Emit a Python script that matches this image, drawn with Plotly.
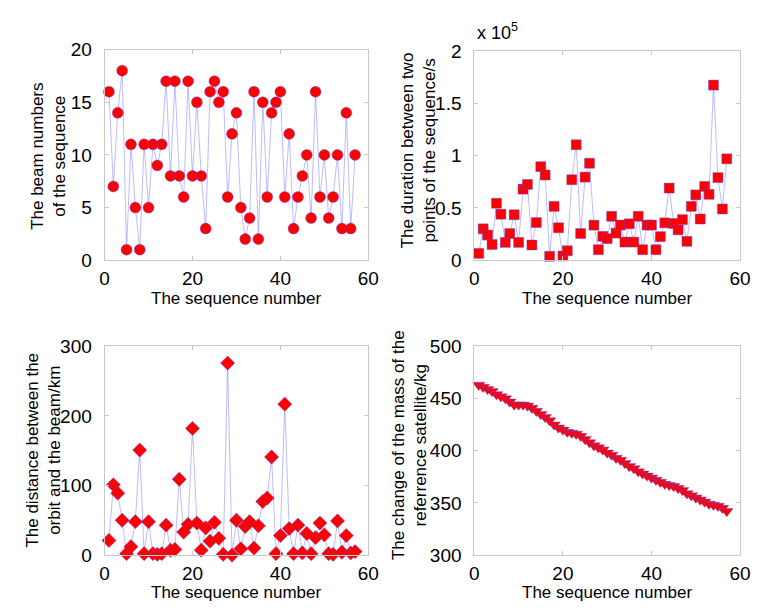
import plotly.graph_objects as go

seq = list(range(1, 58))

beam_numbers = [16, 7, 14, 18, 1, 11, 5, 1, 11, 5, 11, 9, 11, 17, 8, 17, 8, 6, 17, 8,
                15, 8, 3, 16, 17, 15, 16, 6, 12, 14, 5, 2, 4, 16, 2, 15, 6, 14, 15, 16,
                6, 12, 3, 6, 8, 10, 4, 16, 6, 10, 4, 6, 10, 3, 14, 3, 10]

# duration in units of 10^5 s
duration_e5 = [0.065, 0.30, 0.24, 0.15, 0.545, 0.44, 0.17, 0.255, 0.435, 0.17,
               0.68, 0.725, 0.145, 0.36, 0.895, 0.815, 0.037, 0.515, 0.31, 0.04,
               0.09, 0.77, 1.105, 0.255, 0.795, 0.928, 0.335, 0.10, 0.228, 0.206,
               0.42, 0.259, 0.336, 0.173, 0.348, 0.173, 0.42, 0.10, 0.336, 0.336,
               0.10, 0.225, 0.357, 0.69, 0.351, 0.29, 0.388, 0.18, 0.515, 0.625,
               0.394, 0.706, 0.63, 1.676, 0.79, 0.49, 0.97]

distance_km = [21, 101, 89, 50, 2, 12, 48, 151, 2, 48, 2, 1, 2, 43, 7, 8, 109, 33, 44, 182,
               46, 7, 39, 20, 47, 24, 1, 276, 0, 50, 9, 41, 48, 10, 42, 77, 82, 141, 2, 28,
               217, 38, 2, 43, 3, 31, 2, 25, 46, 29, 2, 1, 49, 4, 28, 3, 5]

mass_kg = [463, 461, 459, 457, 454, 452, 450, 447, 444, 444, 444, 443, 441, 438, 435,
           432, 429, 425, 422, 420, 418, 417, 416, 414, 411, 408, 405, 403, 401, 398,
           396, 393, 391, 388, 385, 383, 380, 378, 376, 374, 372, 370, 368, 367, 366,
           364, 362, 359, 357, 355, 353, 351, 349, 348, 347, 345, 342]

x_ticks = [0, 20, 40, 60]
x_title = "The sequence number"
y_titles = ["The beam numbers<br>of the sequence",
            "The duration between two<br>points of the sequence/s",
            "The distance between the<br>orbit and the beam/km",
            "The change of the mass of the<br>referrence satellite/kg"]

FONT = "Arial, Liberation Sans, sans-serif"
LINE_COLOR = "rgba(100,100,255,0.55)"

W, H = 769, 615
def xd(a, b):
    return [a / W, b / W]
def yd(top, bot):
    return [1 - bot / H, 1 - top / H]

fig = go.Figure()

panels = [
    (beam_numbers, "circle", 11, "x", "y"),
    (duration_e5, "square", 10, "x2", "y2"),
    (distance_km, "diamond", 11, "x3", "y3"),
    (mass_kg, "triangle-down", 11, "x4", "y4"),
]
for vals, sym, sz, xa, ya in panels:
    fig.add_trace(go.Scatter(
        x=seq, y=vals, mode="lines+markers", xaxis=xa, yaxis=ya,
        line=dict(color=LINE_COLOR, width=0.8),
        marker=dict(symbol=sym, size=sz, color="#ff0000",
                    line=dict(color="rgba(80,80,255,0.7)", width=0.6)),
        showlegend=False, cliponaxis=False))

axis_common = dict(
    showline=True, linecolor="#c8c8c8", linewidth=1, mirror="ticks",
    ticks="inside", ticklen=4, tickcolor="#c8c8c8",
    showgrid=False, zeroline=False,
    tickfont=dict(family=FONT, size=19, color="#000"),
)
title_font = dict(family=FONT, size=17, color="#000")
xt = dict(range=[0, 60], tickvals=x_ticks, ticktext=[str(t) for t in x_ticks],
          ticklabelstandoff=1, **axis_common)
yt = dict(ticklabelstandoff=8, **axis_common)

annotations = [dict(text="x 10<sup>5</sup>", x=480 / W, y=1 - 36 / H, xref="paper", yref="paper",
                    xanchor="left", yanchor="bottom", showarrow=False,
                    font=dict(family=FONT, size=18, color="#000"))]
# x titles (pixel centers)
for cx, cy in [(236, 298.5), (615, 298.5), (236, 603.5), (615, 603.5)]:
    annotations.append(dict(text=x_title, x=cx / W, y=1 - cy / H, xref="paper", yref="paper",
                            xanchor="center", yanchor="middle", showarrow=False, font=title_font))
# y titles
for txt, (cx, cy) in zip(y_titles, [(45, 152), (422, 145), (39, 456), (413, 450)]):
    annotations.append(dict(text=txt, x=cx / W, y=1 - cy / H, xref="paper", yref="paper",
                            xanchor="center", yanchor="middle", textangle=-90, showarrow=False,
                            font=title_font))

fig.update_layout(
    width=W, height=H, margin=dict(l=0, r=0, t=0, b=0),
    paper_bgcolor="white", plot_bgcolor="white",
    font=dict(family=FONT),
    xaxis=dict(domain=xd(101.7, 371), anchor="y", **xt),
    xaxis2=dict(domain=xd(479.3, 750.7), anchor="y2", **xt),
    xaxis3=dict(domain=xd(101.7, 371), anchor="y3", **xt),
    xaxis4=dict(domain=xd(479.3, 750.7), anchor="y4", **xt),
    yaxis=dict(domain=yd(41, 259), anchor="x", range=[0, 20], tickvals=[0, 5, 10, 15, 20], **yt),
    yaxis2=dict(domain=yd(42.7, 259), anchor="x2", range=[0, 2], tickvals=[0, 0.5, 1, 1.5, 2],
                ticktext=["0", "0.5", "1", "1.5", "2"], **yt),
    yaxis3=dict(domain=yd(348.3, 564.3), anchor="x3", range=[0, 300], tickvals=[0, 100, 200, 300], **yt),
    yaxis4=dict(domain=yd(348.3, 564.3), anchor="x4", range=[300, 500],
                tickvals=[300, 350, 400, 450, 500], **yt),
    annotations=annotations,
)

fig.write_html("out.html", config={"displayModeBar": False},
               post_script="document.body.style.margin='0';document.body.style.overflow='hidden';")
